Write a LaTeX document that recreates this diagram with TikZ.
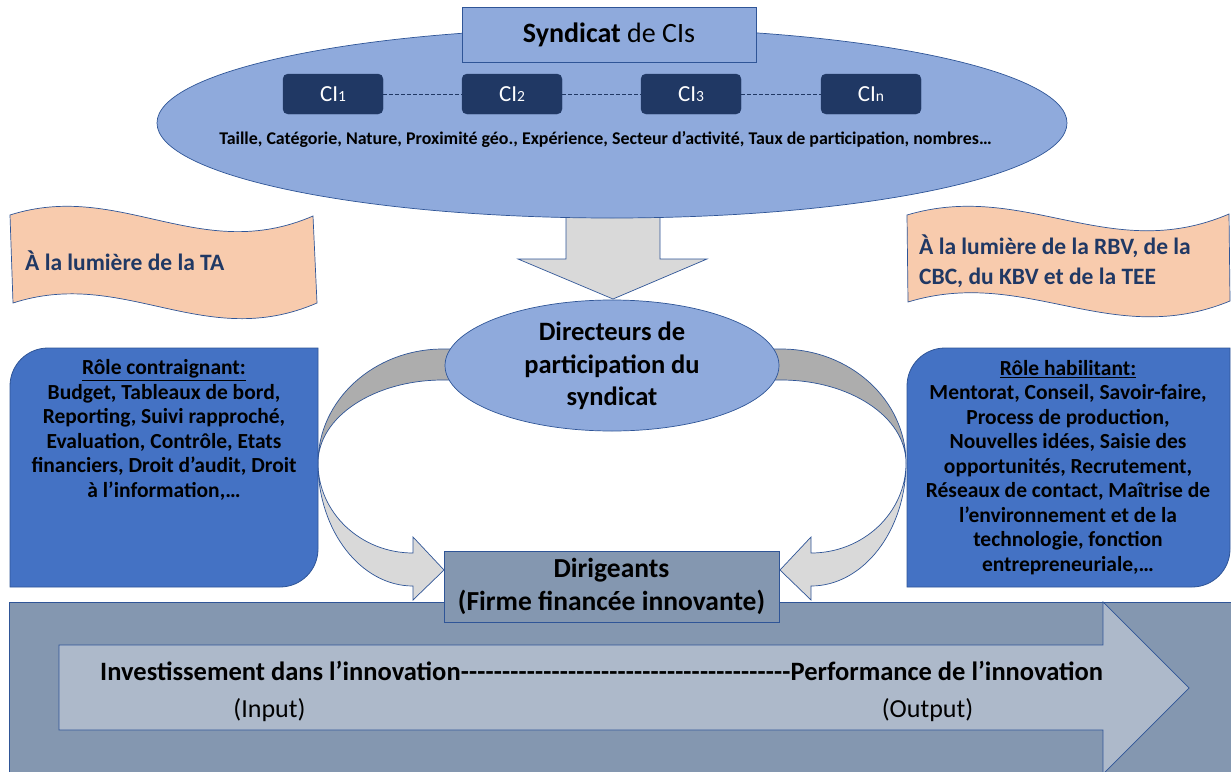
\documentclass[tikz,border=0pt]{standalone}
\usepackage{fontspec}
\setmainfont{Carlito}
\usetikzlibrary{shapes.geometric}
\definecolor{ellblue}{HTML}{8FAADC}
\definecolor{bord}{HTML}{2F5597}
\definecolor{navy}{HTML}{203864}
\definecolor{boxblue}{HTML}{4472C4}
\definecolor{peach}{HTML}{F8CBAD}
\definecolor{lgray}{HTML}{D9D9D9}
\definecolor{dgray}{HTML}{ADADAD}
\definecolor{band}{HTML}{8497B0}
\definecolor{arrowlight}{HTML}{ADB9CA}
\begin{document}
\begin{tikzpicture}[x=1pt,y=-1pt,
  thinb/.style={draw=bord,line width=0.7pt},
  flag/.style={thinb,fill=peach},
  flagtext/.style={text=navy,font=\fontsize{23.5}{30}\selectfont\bfseries,inner sep=0pt},
  cibox/.style={fill=navy,draw=navy,rounded corners=5pt,minimum width=100pt,minimum height=40pt,inner sep=0pt,text=white,font=\fontsize{23}{23}\selectfont},
  darkarrow/.style={thinb,fill=dgray},
  lightarrow/.style={thinb,fill=lgray},
  bluebox/.style={draw=bord,line width=0.8pt,fill=boxblue},
  boxtext/.style={align=center,font=\fontsize{21.5}{24.5}\selectfont\bfseries,inner sep=0pt},
  bigtext/.style={font=\fontsize{26.5}{32.5}\selectfont\bfseries,align=center,inner sep=0pt}
]
\useasboundingbox (0,0) rectangle (1231,771);
\fill[white] (0,0) rectangle (1231,771);

% flags
\draw[flag] (10,215) .. controls (120,180) and (200,265) .. (313,216)
  -- (317,303) .. controls (204,352) and (124,267) .. (13,303) -- cycle;
\node[flagtext,anchor=base west] (ta) at (25,270) {À la lumière de la TA};
\draw[flag] (907,215) .. controls (1025,180) and (1110,265) .. (1229,214)
  -- (1230,301) .. controls (1111,350) and (1026,266) .. (908,302) -- cycle;
\node[flagtext,anchor=base west] (rbv1) at (919,254.5) {À la lumière de la RBV, de la};
\node[flagtext,anchor=base west] (rbv2) at (919,284.5) {CBC, du KBV et de la TEE};

% down arrow
\draw[lightarrow] (566,205) -- (566,259) -- (518,259) -- (613,299) -- (707,259) -- (660,259) -- (660,205) -- cycle;

% big ellipse
\node[ellipse,thinb,fill=ellblue,minimum width=910pt,minimum height=190pt,inner sep=0pt] (synd) at (612,123) {};
\node[thinb,fill=ellblue,minimum width=294pt,minimum height=55pt,inner sep=0pt,font=\fontsize{28}{28}\selectfont] (title) at (609,34.5) {\textbf{Syndicat} de CIs};

% CI boxes
\node[cibox] (ci1) at (333,94) {CI{\fontsize{15.5}{15.5}\selectfont 1}};
\node[cibox] (ci2) at (512,94) {CI{\fontsize{15.5}{15.5}\selectfont 2}};
\node[cibox] (ci3) at (691,94) {CI{\fontsize{15.5}{15.5}\selectfont 3}};
\node[cibox] (cin) at (871,94) {CI{\fontsize{15.5}{15.5}\selectfont n}};
\draw[navy,dash pattern=on 4pt off 2pt,line width=0.7pt] (ci1) -- (ci2) (ci2) -- (ci3) (ci3) -- (cin);
\node[font=\fontsize{17.9}{17.9}\selectfont\bfseries,inner sep=0pt] (attr) at (605.5,140) {Taille, Catégorie, Nature, Proximité géo., Expérience, Secteur d’activité, Taux de participation, nombres…};

% curved arrows
\draw[darkarrow] (455,349) -- (443,349) .. controls (374,349) and (318,400) .. (318,463)
  .. controls (318,417) and (374,380) .. (443,380) -- (455,380) -- cycle;
\draw[lightarrow] (318,463) .. controls (318,531) and (361,586) .. (413,586) -- (413,600) -- (444,570) -- (413,537) -- (413,553)
  .. controls (361,553) and (318,513) .. (318,463) -- cycle;
\draw[darkarrow] (769,349) -- (781,349) .. controls (850,349) and (906,400) .. (906,463)
  .. controls (906,417) and (850,380) .. (781,380) -- (769,380) -- cycle;
\draw[lightarrow] (906,463) .. controls (906,531) and (863,586) .. (811,586) -- (811,600) -- (780,570) -- (811,537) -- (811,553)
  .. controls (863,553) and (906,513) .. (906,463) -- cycle;

% small ellipse
\node[ellipse,thinb,fill=ellblue,minimum width=334pt,minimum height=131pt,inner sep=0pt] (dir) at (612,365.5) {};
\node[bigtext] (dirt) at (612,366) {Directeurs de\\participation du\\syndicat};

% blue boxes
\draw[bluebox] (10,587) -- (10,386) .. controls (10,365) and (27,348) .. (48,348) -- (318,348) -- (318,549)
  .. controls (318,570) and (301,587) .. (280,587) -- cycle;
\node[boxtext] (contr) at (164,430) {\underline{Rôle contraignant:}\\Budget, Tableaux de bord,\\Reporting, Suivi rapproché,\\Evaluation, Contrôle, Etats\\financiers, Droit d’audit, Droit\\à l’information,…};
\draw[bluebox] (907,587) -- (907,386) .. controls (907,365) and (924,348) .. (945,348) -- (1230,348) -- (1230,549)
  .. controls (1230,570) and (1213,587) .. (1192,587) -- cycle;
\node[boxtext] (habil) at (1068,467.5) {\underline{Rôle habilitant:}\\Mentorat, Conseil, Savoir-faire,\\Process de production,\\Nouvelles idées, Saisie des\\opportunités, Recrutement,\\Réseaux de contact, Maîtrise de\\l’environnement et de la\\technologie, fonction\\entrepreneuriale,…};

% bottom band
\draw[thinb,fill=band] (9,602) rectangle (1235,775);
\draw[thinb,fill=arrowlight] (59,645) -- (1103,645) -- (1103,602) -- (1189,688) -- (1103,774) -- (1103,730) -- (59,730) -- cycle;
\node[anchor=base west,inner sep=0pt,font=\fontsize{26.5}{26.5}\selectfont\bfseries] (io) at (100,680.5)
  {\hbox to 1003pt{Investissement dans l’innovation\xleaders\hbox{-}\hfill Performance de l’innovation}};
\node[anchor=base,inner sep=0pt,font=\fontsize{26}{26}\selectfont] (inp) at (269.5,717) {(Input)};
\node[anchor=base,inner sep=0pt,font=\fontsize{26}{26}\selectfont] (outp) at (927.5,717) {(Output)};

% dirigeants
\node[thinb,fill=band,minimum width=335pt,minimum height=71pt,inner sep=0pt,bigtext,font=\fontsize{27.5}{32.5}\selectfont\bfseries] (dirig) at (611.5,586.5) {Dirigeants\\(Firme financée innovante)};
\end{tikzpicture}
\end{document}
